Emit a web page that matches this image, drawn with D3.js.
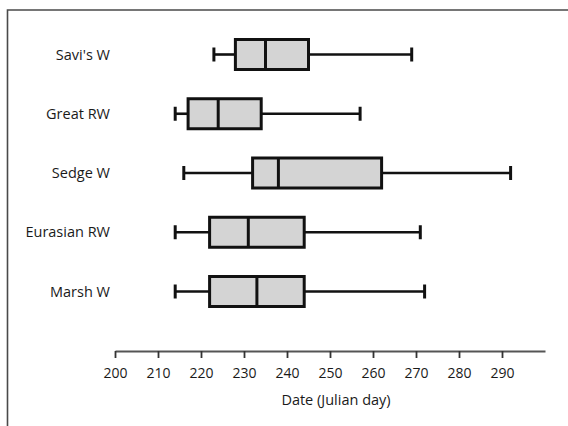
<!DOCTYPE html>
<html><head><meta charset="utf-8">
<script src="https://cdn.jsdelivr.net/npm/d3@7"></script>
<style>body{margin:0;background:#fff}svg{display:block}text{font-family:"Open Sans",sans-serif;fill:#1a1a1a}</style>
</head><body><svg id="c" width="568" height="426"></svg>
<script>
const categories = ["Savi's W", "Great RW", "Sedge W", "Eurasian RW", "Marsh W"];
const whiskerLow = [223, 214, 216, 214, 214];
const q1 = [228, 217, 232, 222, 222];
const medians = [235, 224, 238, 231, 233];
const q3 = [245, 234, 262, 244, 244];
const whiskerHigh = [269, 257, 292, 271, 272];
const tickLabels = [200, 210, 220, 230, 240, 250, 260, 270, 280, 290];
const axisTitle = "Date (Julian day)";

const svg = d3.select("#c");
// frame
svg.append("path").attr("d", "M7.5,430V10H575").attr("fill", "none").attr("stroke", "#4a4a4a").attr("stroke-width", 1.6);

const x = d3.scaleLinear().domain([200, 300]).range([115, 545]);
const y = d3.scalePoint().domain(categories).range([54.5, 291.5]);
const boxH = 30, capH = 14;

const data = categories.map((c, i) => ({c, lo: whiskerLow[i], q1: q1[i], med: medians[i], q3: q3[i], hi: whiskerHigh[i]}));
const g = svg.append("g").selectAll("g").data(data).join("g");
// whiskers
g.append("line").attr("x1", d => x(d.lo)).attr("x2", d => x(d.q1)).attr("y1", d => y(d.c)).attr("y2", d => y(d.c)).attr("stroke", "#111").attr("stroke-width", 2.6);
g.append("line").attr("x1", d => x(d.q3)).attr("x2", d => x(d.hi)).attr("y1", d => y(d.c)).attr("y2", d => y(d.c)).attr("stroke", "#111").attr("stroke-width", 2.6);
g.append("line").attr("x1", d => x(d.lo)).attr("x2", d => x(d.lo)).attr("y1", d => y(d.c) - capH / 2).attr("y2", d => y(d.c) + capH / 2).attr("stroke", "#111").attr("stroke-width", 3);
g.append("line").attr("x1", d => x(d.hi)).attr("x2", d => x(d.hi)).attr("y1", d => y(d.c) - capH / 2).attr("y2", d => y(d.c) + capH / 2).attr("stroke", "#111").attr("stroke-width", 3);
// box
g.append("rect").attr("x", d => x(d.q1)).attr("width", d => x(d.q3) - x(d.q1)).attr("y", d => y(d.c) - boxH / 2).attr("height", boxH)
  .attr("fill", "#d4d4d4").attr("stroke", "#111").attr("stroke-width", 3);
g.append("line").attr("x1", d => x(d.med)).attr("x2", d => x(d.med)).attr("y1", d => y(d.c) - boxH / 2).attr("y2", d => y(d.c) + boxH / 2).attr("stroke", "#111").attr("stroke-width", 3);
// category labels
g.append("text").attr("x", 110).attr("y", d => y(d.c)).attr("dy", "0.35em").attr("text-anchor", "end").attr("font-size", 14.5).text(d => d.c);

// axis
const ax = svg.append("g").attr("transform", "translate(0,351)")
  .call(d3.axisBottom(x).tickValues(tickLabels).tickSize(7).tickSizeOuter(0).tickPadding(10).tickFormat(d3.format("d")));
ax.select(".domain").attr("stroke", "#555").attr("stroke-width", 1.8);
ax.selectAll(".tick line").attr("stroke", "#333").attr("stroke-width", 1.8);
ax.selectAll(".tick text").attr("font-size", 14).attr("font-family", "'Open Sans',sans-serif").attr("fill", "#1a1a1a");

svg.append("text").attr("x", 336).attr("y", 405).attr("text-anchor", "middle").attr("font-size", 14.5).text(axisTitle);
</script></body></html>
